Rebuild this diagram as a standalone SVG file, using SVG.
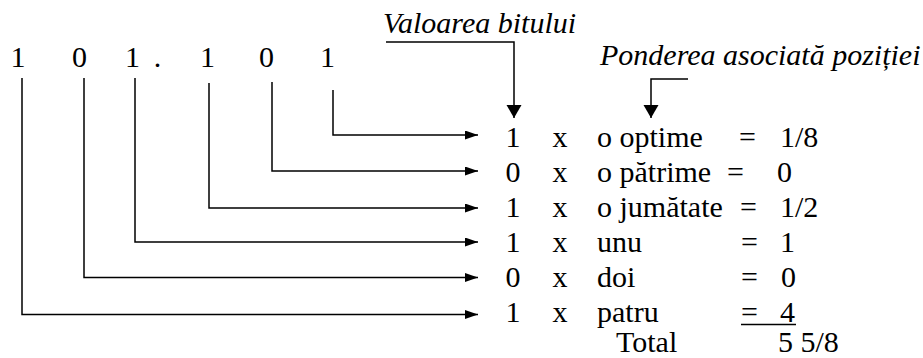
<svg xmlns="http://www.w3.org/2000/svg" width="923" height="358" viewBox="0 0 923 358">
<style>
text{font-family:'Liberation Serif','Times New Roman',serif;font-size:30px;fill:#000}
.it{font-style:italic}
.m{text-anchor:middle}
.ln{fill:none;stroke:#000;stroke-width:1.5}
</style>
<defs>
<marker id="ah" markerUnits="userSpaceOnUse" markerWidth="14" markerHeight="10" refX="13" refY="4.5" orient="auto"><path d="M0,0 L13,4.5 L0,9 Z" fill="#000"/></marker>
<marker id="av" markerUnits="userSpaceOnUse" markerWidth="15" markerHeight="16" refX="13" refY="7.5" orient="auto"><path d="M0,0 L13,7.5 L0,15 Z" fill="#000"/></marker>
</defs>
<rect width="923" height="358" fill="#fff"/>
<g id="bits">
<g id="bit1"><text class="m" x="18" y="67">1</text></g>
<g id="bit2"><text class="m" x="79.5" y="67">0</text></g>
<g id="bit3"><text class="m" x="132.5" y="67">1</text></g>
<g id="point"><text class="m" x="157.5" y="67">.</text></g>
<g id="bit4"><text class="m" x="207.5" y="67">1</text></g>
<g id="bit5"><text class="m" x="266.5" y="67">0</text></g>
<g id="bit6"><text class="m" x="327.5" y="67">1</text></g>
</g>
<g id="label-valoare"><text class="it" x="383" y="33">Valoarea bitului</text></g>
<g id="label-pondere"><text class="it" x="600" y="65">Ponderea asociată poziției</text></g>
<g id="row1"><text class="m" x="513" y="147">1</text><text class="m" x="560" y="147">x</text><text x="597" y="147">o optime</text><text x="739" y="147">=</text><text x="780" y="147">1/8</text></g>
<g id="row2"><text class="m" x="513" y="182">0</text><text class="m" x="560" y="182">x</text><text x="597" y="182">o pătrime</text><text x="727" y="182">=</text><text x="777" y="182">0</text></g>
<g id="row3"><text class="m" x="513" y="217">1</text><text class="m" x="560" y="217">x</text><text x="597" y="217">o jumătate</text><text x="740" y="217">=</text><text x="780" y="217">1/2</text></g>
<g id="row4"><text class="m" x="513" y="252">1</text><text class="m" x="560" y="252">x</text><text x="597" y="252">unu</text><text x="741" y="252">=</text><text x="780" y="252">1</text></g>
<g id="row5"><text class="m" x="513" y="287">0</text><text class="m" x="560" y="287">x</text><text x="597" y="287">doi</text><text x="741" y="287">=</text><text x="781" y="287">0</text></g>
<g id="row6"><text class="m" x="513" y="322">1</text><text class="m" x="560" y="322">x</text><text x="597" y="322">patru</text><text x="741" y="322">=</text><text x="780" y="322">4</text><line class="ln" x1="741" y1="324.5" x2="796" y2="324.5"/></g>
<g id="total"><text x="616" y="352">Total</text><text x="778" y="352">5 5/8</text></g>
<g id="connectors">
<path class="ln" d="M333,90 V135 H478" marker-end="url(#ah)"/>
<path class="ln" d="M272,82 V171 H478" marker-end="url(#ah)"/>
<path class="ln" d="M209,83 V208 H478" marker-end="url(#ah)"/>
<path class="ln" d="M135,78 V242 H478" marker-end="url(#ah)"/>
<path class="ln" d="M84,78 V277.5 H478" marker-end="url(#ah)"/>
<path class="ln" d="M22,78 V314.5 H478" marker-end="url(#ah)"/>
<path class="ln" d="M386,42 H514 V118" marker-end="url(#av)"/>
<path class="ln" d="M688,79 H651 V118" marker-end="url(#av)"/>
</g>
</svg>
